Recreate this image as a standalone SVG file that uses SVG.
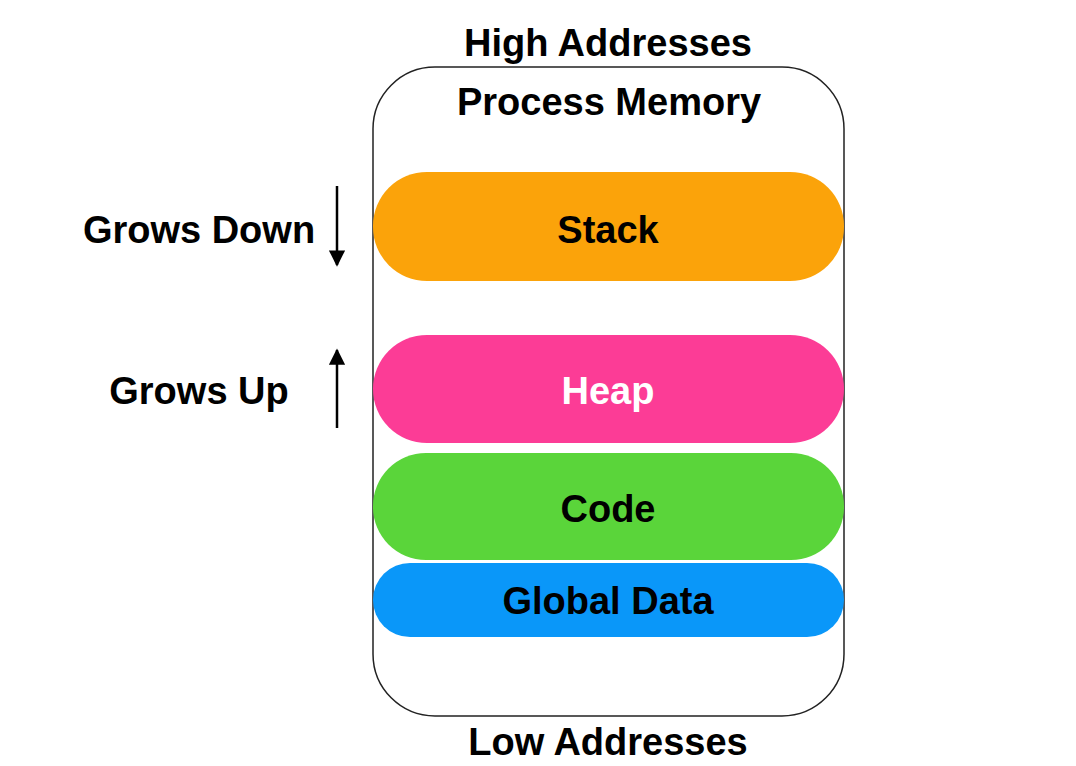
<svg xmlns="http://www.w3.org/2000/svg" width="1076" height="766" viewBox="0 0 1076 766">
<style>
text{font-family:"Liberation Sans",Arial,sans-serif;font-size:38px;font-weight:bold;fill:#000;text-anchor:middle}
.seg{stroke:none}
.arr{stroke:#000;stroke-width:2.5;fill:none}
</style>
<defs>
<marker id="ah" viewBox="0 0 10 10" refX="9" refY="5" markerWidth="7" markerHeight="6.5" orient="auto" markerUnits="strokeWidth">
<path d="M0,0 L10,5 L0,10 z" fill="#000"/>
</marker>
</defs>
<rect width="1076" height="766" fill="#fff"/>
<text x="608" y="56">High Addresses</text>
<text x="608" y="755">Low Addresses</text>
<g id="process-memory">
<rect x="373" y="67" width="471" height="649" rx="62" ry="62" fill="#fff" stroke="#222" stroke-width="1.5"/>
<text x="609" y="115">Process Memory</text>
</g>
<g id="stack">
<rect class="seg" x="373" y="172" width="471" height="109" rx="54" fill="#FBA30A"/>
<text x="608" y="243">Stack</text>
</g>
<g id="heap">
<rect class="seg" x="373" y="335" width="471" height="108" rx="54" fill="#FC3C96"/>
<text x="608" y="404" style="fill:#fff">Heap</text>
</g>
<g id="code">
<rect class="seg" x="373" y="453" width="471" height="107" rx="53" fill="#5AD53A"/>
<text x="608" y="522">Code</text>
</g>
<g id="global-data">
<rect class="seg" x="373" y="563" width="471" height="74" rx="37" fill="#0A97F9"/>
<text x="608" y="614">Global Data</text>
</g>
<g id="grows-down">
<text x="199" y="243">Grows Down</text>
</g>
<g id="grows-up">
<text x="199" y="404">Grows Up</text>
</g>
<g id="connectors">
<line class="arr" x1="337" y1="186" x2="337" y2="265" marker-end="url(#ah)"/>
<line class="arr" x1="337" y1="428" x2="337" y2="350" marker-end="url(#ah)"/>
</g>
</svg>
